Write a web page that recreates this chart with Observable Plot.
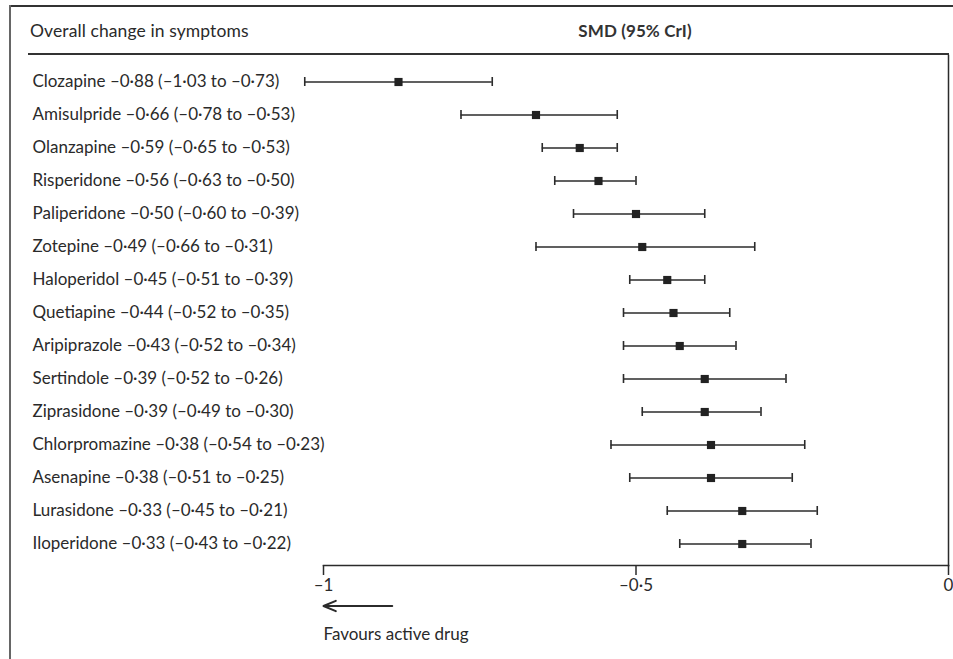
<!DOCTYPE html>
<html>
<head>
<meta charset="utf-8">
<script src="https://cdn.jsdelivr.net/npm/d3@7"></script>
<script src="https://cdn.jsdelivr.net/npm/@observablehq/plot@0.6"></script>
<style>
  html, body { margin: 0; padding: 0; background: #fff; }
  #wrap { position: relative; width: 953px; height: 659px; overflow: hidden; font-family: Lato, "Open Sans", sans-serif; color: #2a2a2a; }
  #wrap svg { position: absolute; left: 0; top: 0; }
  .topline { position: absolute; left: 9px; top: 5px; width: 944px; height: 2px; background: #333; }
  .leftline { position: absolute; left: 9px; top: 5px; width: 1.5px; height: 654px; background: #666; }
  .headline { position: absolute; left: 28px; top: 53px; width: 921px; height: 1.5px; background: #333; }
  .hdr { position: absolute; top: 20px; font-size: 17.5px; letter-spacing: 0.1px; }
  .hdr.left { left: 30px; }
  .hdr.mid { left: 635px; transform: translateX(-50%); font-weight: 700; font-size: 17px; color: #333; }
</style>
</head>
<body>
<div id="wrap">
  <div class="topline"></div>
  <div class="leftline"></div>
  <div class="headline"></div>
  <div class="hdr left">Overall change in symptoms</div>
  <div class="hdr mid">SMD (95% CrI)</div>
</div>
<script>
const drugs = ["Clozapine","Amisulpride","Olanzapine","Risperidone","Paliperidone","Zotepine","Haloperidol","Quetiapine","Aripiprazole","Sertindole","Ziprasidone","Chlorpromazine","Asenapine","Lurasidone","Iloperidone"];
const smd   = [-0.88,-0.66,-0.59,-0.56,-0.50,-0.49,-0.45,-0.44,-0.43,-0.39,-0.39,-0.38,-0.38,-0.33,-0.33];
const lower = [-1.03,-0.78,-0.65,-0.63,-0.60,-0.66,-0.51,-0.52,-0.52,-0.52,-0.49,-0.54,-0.51,-0.45,-0.43];
const upper = [-0.73,-0.53,-0.53,-0.50,-0.39,-0.31,-0.39,-0.35,-0.34,-0.26,-0.30,-0.23,-0.25,-0.21,-0.22];
const xTicks = [-1, -0.5, 0];
const xTickLabels = ["–1", "–0·5", "0"];

const fmt = v => "–" + Math.abs(v).toFixed(2).replace(".", "·");
const rows = drugs.map((d, i) => ({
  drug: d, smd: smd[i], lo: lower[i], hi: upper[i],
  label: `${d} ${fmt(smd[i])} (${fmt(lower[i])} to ${fmt(upper[i])})`
}));

const ink = "#2b2b2b";
const chart = Plot.plot({
  width: 953,
  height: 659,
  marginLeft: 323,
  marginRight: 5,
  marginTop: 55,
  marginBottom: 94,
  style: { fontFamily: "Lato, 'Open Sans', sans-serif", background: "transparent", color: ink },
  x: { domain: [-1, 0] },
  y: { type: "band", domain: drugs, range: [63.4, 561.6], padding: 0, axis: null },
  marks: [
    Plot.frame({ anchor: "bottom", stroke: ink, strokeWidth: 1.5 }),
    Plot.frame({ anchor: "right", stroke: ink, strokeWidth: 1.5 }),
    Plot.axisX({ ticks: xTicks, tickFormat: d => xTickLabels[xTicks.indexOf(d)], tickSize: 10, tickPadding: 3, fontSize: 17, label: null, stroke: ink, strokeWidth: 1.5 }),
    Plot.ruleY(rows, { y: "drug", x1: "lo", x2: "hi", stroke: ink, strokeWidth: 1.6 }),
    Plot.tickX(rows, { y: "drug", x: "lo", stroke: ink, strokeWidth: 1.6, insetTop: 12, insetBottom: 12 }),
    Plot.tickX(rows, { y: "drug", x: "hi", stroke: ink, strokeWidth: 1.6, insetTop: 12, insetBottom: 12 }),
    Plot.dot(rows, { y: "drug", x: "smd", symbol: "square", r: 4.6, fill: "#222", stroke: "none" }),
    Plot.text(rows, { y: "drug", text: "label", frameAnchor: "left", dx: -291, textAnchor: "start", fontSize: 17, fill: "#2a2a2a", style: "letter-spacing:-0.3px" }),
    Plot.arrow([{ x1: -0.89, x2: -1 }], { x1: "x1", x2: "x2", y1: () => drugs[drugs.length - 1], y2: () => drugs[drugs.length - 1], dy: 62, stroke: ink, strokeWidth: 2, headLength: 10, headAngle: 45 }),
    Plot.text(["Favours active drug"], { x: () => -1, y: () => drugs[drugs.length - 1], text: d => d, dy: 91, textAnchor: "start", fontSize: 17, fill: "#2a2a2a", style: "letter-spacing:-0.2px" })
  ]
});
document.getElementById("wrap").prepend(chart);
</script>
</body>
</html>
